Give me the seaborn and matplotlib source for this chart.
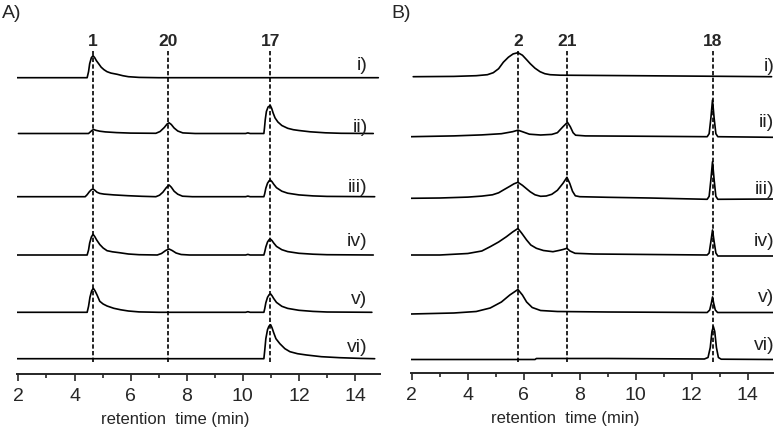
import numpy as np
import pandas as pd
import matplotlib
matplotlib.use("Agg")
import matplotlib.pyplot as plt
import seaborn as sns

# Chromatogram traces: (retention time in min, signal above the trace's own baseline)
a_i = [(1.93, 0), (4.45, 0), (4.50, 6), (4.54, 14), (4.60, 20), (4.66, 22), (4.72, 20), (4.78, 17), (4.86, 14),
       (4.95, 10.5), (5.05, 8), (5.16, 6), (5.30, 4.6), (5.52, 3.4), (5.72, 2), (5.92, 1), (6.3, 0.3), (7.0, 0),
       (14.83, 0)]
a_ii = [(2.0, 0), (4.50, 0), (4.56, 1.5), (4.62, 3), (4.68, 4), (4.76, 3.2), (4.9, 2.3), (5.1, 1.6), (5.5, 0.9),
        (6.0, 0.4), (6.9, 0.2), (7.05, 2), (7.2, 6), (7.30, 9.5), (7.37, 10.7), (7.45, 9), (7.55, 5.5), (7.68, 2.5),
        (7.86, 0.6), (8.3, 0), (10.1, 0), (10.18, 0.6), (10.26, 0), (10.75, 0), (10.77, 5), (10.80, 14), (10.84, 22),
        (10.90, 26.5), (10.98, 28), (11.03, 25), (11.08, 20.5), (11.15, 15.5), (11.25, 11.5), (11.39, 8),
        (11.6, 5.2), (11.8, 3.8), (12.0, 3), (12.4, 1.7), (12.94, 0.7), (13.5, 0.2), (14.65, 0)]
a_iii = [(1.93, 0), (4.38, 0), (4.45, 2), (4.53, 5), (4.60, 7), (4.66, 7.7), (4.72, 6.5), (4.80, 4.5), (4.9, 3.3),
         (5.05, 2.6), (5.4, 1.8), (5.9, 1), (6.4, 0.4), (6.9, 0), (7.03, 1.5), (7.15, 4.5), (7.27, 9), (7.37, 11.7),
         (7.45, 9.5), (7.55, 5.5), (7.68, 2.5), (7.85, 0.5), (8.2, 0), (10.1, 0), (10.18, 0.6), (10.26, 0), (10.75, 0),
         (10.78, 3), (10.82, 8.5), (10.88, 13.5), (10.94, 16), (10.98, 16.7), (11.04, 15), (11.1, 12.5), (11.2, 9),
         (11.39, 5.5), (11.6, 3.5), (12.0, 1.8), (12.5, 0.8), (13.0, 0.3), (14.7, 0)]
a_iv = [(1.93, 0), (4.45, 0), (4.50, 5), (4.54, 12), (4.60, 18), (4.66, 20.7), (4.72, 18.5), (4.79, 15), (4.90, 10.5),
        (5.02, 7), (5.16, 4.3), (5.35, 3.2), (5.6, 2.3), (5.92, 1), (6.3, 0.3), (6.95, 0), (7.1, 1.5), (7.25, 4.5),
        (7.37, 6), (7.48, 4.5), (7.62, 2), (7.8, 0.5), (8.1, 0), (10.1, 0), (10.18, 0.6), (10.26, 0), (10.75, 0),
        (10.78, 3), (10.82, 8), (10.88, 13), (10.94, 15.4), (10.98, 16), (11.04, 14.4), (11.1, 12), (11.2, 8.6),
        (11.39, 5.3), (11.6, 3.4), (12.0, 1.7), (12.5, 0.8), (13.0, 0.3), (14.65, 0)]
a_v = [(1.93, 0), (4.45, 0), (4.50, 6), (4.55, 15), (4.61, 21.5), (4.67, 24), (4.73, 21.5), (4.80, 17.5), (4.90, 11),
       (5.02, 8.3), (5.16, 6.3), (5.4, 4), (5.65, 2.5), (5.92, 1.3), (6.3, 0.4), (7.0, 0), (10.1, 0), (10.18, 0.6),
       (10.26, 0), (10.75, 0), (10.78, 3.5), (10.82, 9.5), (10.88, 15), (10.94, 17.7), (10.99, 18.4), (11.04, 16.6),
       (11.1, 13.8), (11.2, 9.9), (11.39, 6), (11.6, 3.9), (12.0, 2), (12.5, 0.9), (13.0, 0.3), (14.6, 0)]
a_vi = [(1.93, 0), (10.75, 0), (10.78, 8), (10.82, 20), (10.88, 29), (10.93, 32.5), (10.99, 34), (11.04, 31),
        (11.10, 26), (11.18, 20), (11.32, 15), (11.5, 10), (11.68, 7), (11.95, 5), (12.27, 3.7), (12.8, 2),
        (13.46, 1), (14.2, 0.3), (14.7, 0)]

b_i = [(2.05, 0), (3.5, 0.3), (4.3, 1), (4.7, 2), (4.91, 4), (5.1, 8), (5.27, 14.5), (5.45, 19.5), (5.62, 22.8),
       (5.79, 24), (5.95, 21.5), (6.1, 17), (6.23, 13), (6.4, 8.5), (6.58, 5), (6.75, 3), (6.94, 2), (7.3, 1.5),
       (10.0, 1), (12.5, 0.5), (14.85, 0)]
b_ii = [(1.96, 0), (3.5, 0.8), (4.5, 1.8), (5.2, 3), (5.6, 5), (5.79, 6.5), (5.95, 5), (6.2, 2.5), (6.6, 1.7),
        (7.0, 2.3), (7.2, 4), (7.4, 10), (7.56, 14.4), (7.66, 10), (7.76, 4), (7.85, 1.5), (8.2, 0.8), (10.0, 0.5),
        (12.55, 0), (12.62, 3), (12.68, 18), (12.74, 36.7), (12.80, 18), (12.86, 3), (12.93, 0), (14.9, -0.6)]
b_iii = [(1.96, 0), (3.0, 0.3), (4.0, 1.2), (4.5, 2.2), (4.88, 3.5), (5.1, 5.5), (5.27, 8.3), (5.5, 12), (5.65, 14.5),
         (5.79, 16), (5.95, 13), (6.1, 9.5), (6.23, 6.5), (6.4, 3.5), (6.6, 2), (6.8, 2.3), (7.0, 4), (7.2, 8),
         (7.4, 15), (7.54, 21), (7.64, 15), (7.74, 7), (7.84, 2.5), (8.0, 1.6), (9.0, 1), (10.5, 0.3), (12.55, -1),
         (12.62, 2), (12.68, 18), (12.74, 36.6), (12.80, 18), (12.86, 2), (12.93, -1), (14.9, -0.7)]
b_iv = [(1.96, 0), (3.0, 0), (4.0, 1.5), (4.5, 4), (4.8, 8.3), (5.1, 13), (5.38, 18.3), (5.6, 23), (5.79, 26.5),
        (5.92, 22), (6.1, 15), (6.25, 10), (6.45, 6.7), (6.7, 4.5), (7.04, 3.3), (7.25, 4.5), (7.4, 5.5), (7.54, 6.7),
        (7.65, 4), (7.83, 1.7), (8.5, 1), (10.5, 0.5), (12.55, 0), (12.62, 2), (12.68, 13), (12.74, 25), (12.80, 13),
        (12.86, 2), (12.93, -1), (14.9, -1)]
b_v = [(1.96, 0), (3.5, 1), (4.3, 2.5), (4.8, 6), (5.2, 12), (5.5, 19), (5.79, 24.5), (5.95, 19), (6.1, 12),
       (6.3, 6.5), (6.6, 3.5), (7.2, 2.5), (9.0, 2), (12.55, 1.5), (12.64, 4), (12.70, 11), (12.74, 17), (12.78, 11),
       (12.84, 4), (12.92, 1.5), (14.9, 1.5)]
b_vi = [(1.96, 0), (6.4, 0), (6.45, 1), (9.0, 1), (12.45, 0.5), (12.58, 2), (12.66, 12), (12.72, 28), (12.77, 33),
        (12.82, 28), (12.88, 12), (12.95, 2), (13.05, 0.3), (14.9, 0)]

trace_names = ["i)", "ii)", "iii)", "iv)", "v)", "vi)"]
a_peak_names = ["1", "20", "17"]
a_peak_times = [4.65, 7.35, 10.98]
b_peak_names = ["2", "21", "18"]
b_peak_times = [5.79, 7.56, 12.74]
x_ticks = [2, 4, 6, 8, 10, 12, 14]

# layout (pixel based, figure is 784x432)
W, H = 784, 432
a_spine, b_spine = 374.3, 372.7
a_base_px = [77.7, 133.5, 196.7, 255.0, 312.3, 358.7]
b_base_px = [76.7, 136.7, 198.3, 255.0, 314.0, 359.5]
a_label_px = [66, 127, 187, 241, 299, 347]
b_label_px = [66.5, 122.5, 190, 241, 298, 345]


def to_frame(traces, base_px, spine):
    rows = []
    for name, pts, b in zip(trace_names, traces, base_px):
        for t, s in pts:
            rows.append({"trace": name, "time": t, "signal": s + spine - b})
    return pd.DataFrame(rows)


sns.set_style("ticks")
plt.rcParams["font.family"] = ["Liberation Sans", "DejaVu Sans"]

fig = plt.figure(figsize=(W / 100, H / 100), dpi=100)
ax_a = fig.add_axes([17.3 / W, 1 - a_spine / H, 362.7 / W, a_spine / H])
ax_b = fig.add_axes([410.7 / W, 1 - b_spine / H, 362.0 / W, b_spine / H])

panels = [
    (ax_a, [a_i, a_ii, a_iii, a_iv, a_v, a_vi], a_base_px, a_label_px, a_spine, a_peak_names, a_peak_times, 14.45, 0.435),
    (ax_b, [b_i, b_ii, b_iii, b_iv, b_v, b_vi], b_base_px, b_label_px, b_spine, b_peak_names, b_peak_times, 14.95, 0.426),
]

for ax, traces, base_px, label_px, spine, pnames, ptimes, lab_x, xlab_pos in panels:
    df = to_frame(traces, base_px, spine)
    sns.lineplot(data=df, x="time", y="signal", units="trace", estimator=None, sort=False,
                 color="black", lw=1.2, ax=ax, legend=False)
    ax.vlines(ptimes, spine - 362, spine - 50, colors="black", lw=1.2, linestyles=(0, (2.6, 1.4)))
    for n, t in zip(pnames, ptimes):
        ax.text(t, spine - 41.7, n, ha="center", va="center", fontsize=12.5, fontweight="bold")
    for n, py in zip(trace_names, label_px):
        ax.text(lab_x, spine - py, n, ha="right", va="center", fontsize=14, color="#222222")
    ax.set_xlim(1.96, 14.89)
    ax.set_ylim(0, spine)
    ax.set_xticks(x_ticks)
    ax.set_xticks(np.arange(3, 15, 2), minor=True)
    ax.set_yticks([])
    ax.set_ylabel("")
    ax.set_xlabel("retention  time (min)", fontsize=12, labelpad=5)
    ax.xaxis.label.set_x(xlab_pos)
    ax.tick_params(axis="x", which="major", direction="out", length=5, width=1.2, labelsize=14, pad=5)
    ax.tick_params(axis="x", which="minor", direction="out", length=3, width=1.2)
    ax.patch.set_alpha(0)
    for side in ["left", "top", "right"]:
        ax.spines[side].set_visible(False)
    ax.spines["bottom"].set_linewidth(1.4)

fig.text(2 / W, 1 - 13 / H, "A)", fontsize=14, ha="left", va="center")
fig.text(391.7 / W, 1 - 13 / H, "B)", fontsize=14, ha="left", va="center")

fig.savefig("out.png", dpi=100)
